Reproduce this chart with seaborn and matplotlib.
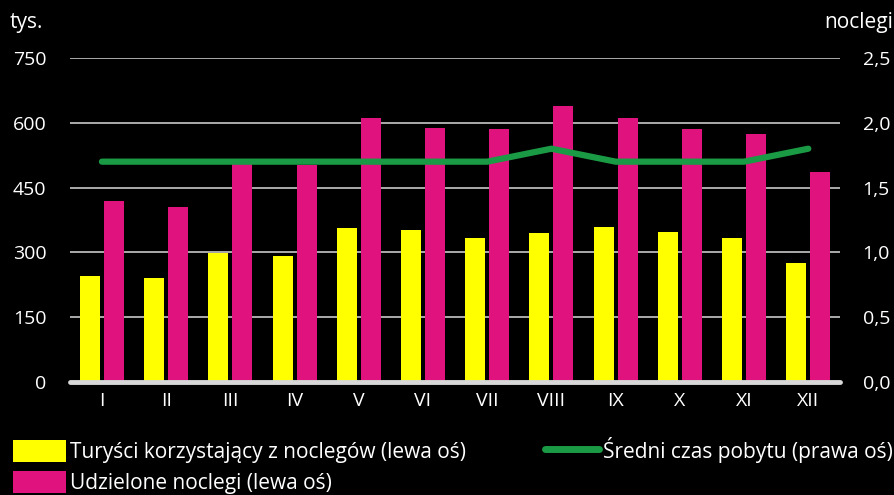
import matplotlib
matplotlib.use("Agg")
import matplotlib.pyplot as plt
import seaborn as sns
import pandas as pd
from matplotlib.patches import Patch
from matplotlib.lines import Line2D

# monthly data
months = ["I", "II", "III", "IV", "V", "VI", "VII", "VIII", "IX", "X", "XI", "XII"]
tourists = [245, 240, 298, 291, 356, 352, 333, 346, 360, 348, 333, 275]
nights = [420, 404, 505, 503, 611, 588, 586, 639, 612, 586, 575, 487]
avg_stay = [1.7, 1.7, 1.7, 1.7, 1.7, 1.7, 1.7, 1.8, 1.7, 1.7, 1.7, 1.8]

left_ticks = [0, 150, 300, 450, 600, 750]
right_labels = ["0,0", "0,5", "1,0", "1,5", "2,0", "2,5"]

lbl_tourists = "Turyści korzystający z noclegów (lewa oś)"
lbl_nights = "Udzielone noclegi (lewa oś)"
lbl_stay = "Średni czas pobytu (prawa oś)"

YELLOW = "#ffff00"
PINK = "#e0137e"
GREEN = "#1b9a45"
GRID = "#c8c8c8"

sns.set_style("dark")
plt.rcParams["font.family"] = ["Open Sans", "DejaVu Sans"]
plt.rcParams["text.color"] = "white"

df = pd.DataFrame({
    "month": months * 2,
    "value": tourists + nights,
    "series": [lbl_tourists] * 12 + [lbl_nights] * 12,
})

fig = plt.figure(figsize=(8.95, 4.95), dpi=100, facecolor="black")
ax = fig.add_axes([0.078, 0.228, 0.861, 0.655])
ax.set_facecolor("black")

sns.barplot(data=df, x="month", y="value", hue="series", order=months,
            palette=[YELLOW, PINK], width=0.75, gap=0.17, ax=ax,
            legend=False, saturation=1, linewidth=0)

ax.set_ylim(0, 750)
ax.set_yticks(left_ticks)
ax.set_xlim(-0.5, 11.5)
ax.set_axisbelow(True)
ax.yaxis.grid(True, color=GRID, linewidth=1.2)
ax.xaxis.grid(False)
for s in ax.spines.values():
    s.set_visible(False)
ax.axhline(0, color="#d8d8d8", linewidth=3.5, zorder=5, clip_on=False)
ax.set_xlabel("")
ax.set_ylabel("")
ax.tick_params(axis="y", length=0, pad=17, labelsize=14, labelcolor="white")
ax.tick_params(axis="x", length=0, pad=7, labelsize=14, labelcolor="white")

ax2 = ax.twinx()
sns.lineplot(x=months, y=avg_stay, sort=False, color=GREEN, linewidth=4.5,
             ax=ax2, solid_capstyle="round")
ax2.set_ylim(0, 2.5)
ax2.set_yticks([0, 0.5, 1.0, 1.5, 2.0, 2.5])
ax2.set_yticklabels(right_labels)
ax2.grid(False)
for s in ax2.spines.values():
    s.set_visible(False)
ax2.tick_params(axis="y", length=0, pad=16, labelsize=14, labelcolor="white")
ax2.patch.set_alpha(0)

fig.text(0.011, 0.955, "tys.", fontsize=15, color="white", va="center")
fig.text(0.998, 0.955, "noclegi", fontsize=15, color="white", va="center", ha="right")

handles = [Patch(facecolor=YELLOW, edgecolor="none"), Patch(facecolor=PINK, edgecolor="none"),
           Line2D([0], [0], color=GREEN, linewidth=5, solid_capstyle="round")]
fig.legend(handles, [lbl_tourists, lbl_nights, lbl_stay], ncol=2,
           loc="upper left", bbox_to_anchor=(0.0145, 0.118), frameon=False,
           fontsize=15, handlelength=2.55, handleheight=1.25, handletextpad=0.2,
           columnspacing=3.8, labelspacing=0.4, borderaxespad=0, borderpad=0)

fig.savefig("out.png", dpi=100, facecolor="black")
